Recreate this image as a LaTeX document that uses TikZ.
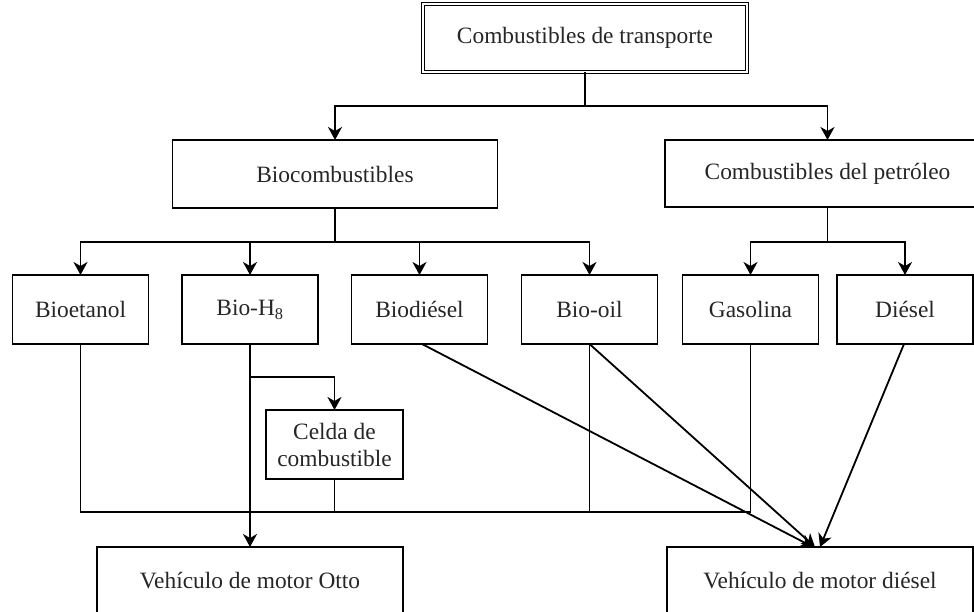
\documentclass[tikz,border=0pt]{standalone}
\usepackage{fontspec}
\setmainfont{Liberation Serif}
\usetikzlibrary{arrows.meta}
\begin{document}
\begin{tikzpicture}[x=1pt,y=-1pt,
  box/.style={draw, line width=1.8pt, inner sep=0pt, outer sep=0pt,
    font=\fontsize{23.4}{27}\selectfont, align=center, text=black!85},
  rowbox/.style={box, minimum width=136pt, minimum height=69pt},
  con/.style={line width=1.8pt},
  arr/.style={con, -{Stealth[length=13pt,width=14pt,inset=4pt]}}]
\useasboundingbox (0,0) rectangle (974,612);
\clip (0,0) rectangle (974,612);

% nodes
\node[box, double, double distance=2pt, line width=1.3pt, minimum width=324pt, minimum height=68pt] (top) at (585,38) {Combustibles de transporte};
\node[box, minimum width=325pt, minimum height=68pt] (bio) at (335,174) {Biocombustibles};
\node[box, minimum width=325pt, minimum height=67pt] (pet) at (827.5,173.5) {Combustibles del petróleo};

\node[rowbox] (betanol) at (80.5,309.5) {Bioetanol};
\node[rowbox] (bioh) at (250,309.5) {Bio-H\textsubscript{8}};
\node[rowbox] (bdiesel) at (419.5,309.5) {Biodiésel};
\node[rowbox] (boil) at (589.5,309.5) {Bio-oil};
\node[rowbox] (gas) at (750.5,309.5) {Gasolina};
\node[rowbox] (dies) at (905,309.5) {Diésel};

\node[box, minimum width=137pt, minimum height=69pt] (celda) at (334.5,444.5) {Celda de\\combustible};

\node[box, minimum width=306pt, minimum height=68pt] (otto) at (250,581) {Vehículo de motor Otto};
\node[box, minimum width=306pt, minimum height=68pt] (vdiesel) at (820,581) {Vehículo de motor diésel};

% junctions
\coordinate (j1) at (585,106);
\coordinate (j2) at (335,242);
\coordinate (j3) at (827.5,242);
\coordinate (c1) at (750.5,512);
\coordinate (b1) at (250,377);

% connectors
\draw[con] (top.south) -- (j1);
\draw[arr] (j1) -| (bio.north);
\draw[arr] (j1) -| (pet.north);

\draw[con] (bio.south) -- (j2);
\draw[arr] (j2) -| (betanol.north);
\draw[arr] (j2) -| (bioh.north);
\draw[arr] (j2) -| (bdiesel.north);
\draw[arr] (j2) -| (boil.north);

\draw[con] (pet.south) -- (j3);
\draw[arr] (j3) -| (gas.north);
\draw[arr] (j3) -| (dies.north);

\draw[con] (betanol.south) |- (c1);
\draw[con] (gas.south) -- (c1);
\draw[con] (celda.south) -- (celda.south |- c1);
\draw[con] (boil.south) -- (boil.south |- c1);

\draw[arr] (bioh.south) -- (otto.north);
\draw[arr] (b1) -| (celda.north);

\draw[arr] ([xshift=2.5pt]bdiesel.south) -- ([xshift=-7pt]vdiesel.north);
\draw[arr] (boil.south) -- ([xshift=-5pt]vdiesel.north);
\draw[arr] ([xshift=-1pt]dies.south) -- (vdiesel.north);
\end{tikzpicture}
\end{document}
